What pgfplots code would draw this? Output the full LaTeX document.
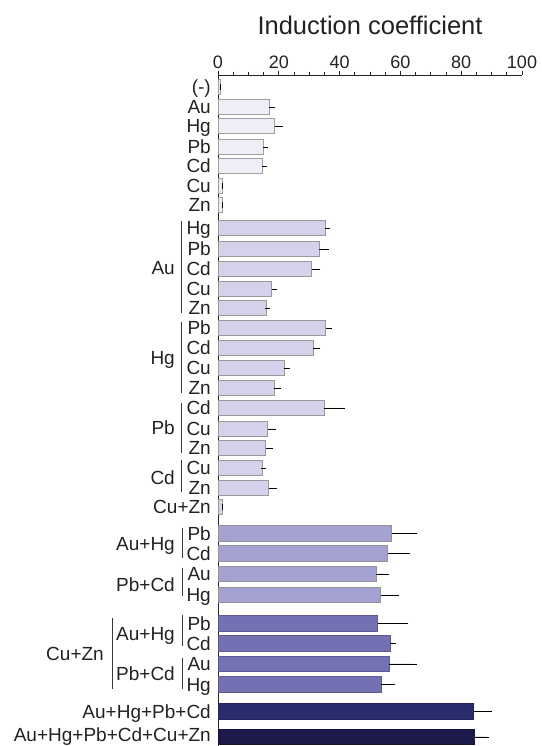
\documentclass[border=0pt]{standalone}
\usepackage{fontspec}
\setmainfont{Liberation Sans}
\usepackage{pgfplots}
\usepackage{pgfplotstable}
\pgfplotsset{compat=1.18}

\definecolor{cA}{HTML}{EEEEF6}
\definecolor{cB}{HTML}{D3D2EA}
\definecolor{cC}{HTML}{A4A2D2}
\definecolor{cD}{HTML}{7371B4}
\definecolor{cE}{HTML}{2B2C6E}
\definecolor{cF}{HTML}{1B1A4A}
\definecolor{txt}{HTML}{222222}

% y = row position (pt from bottom), x = induction coefficient, e = error
\pgfplotstableread{
y     x     e
659   0.9   0.0
639   16.8  1.0
620   18.6  1.8
599   14.9  0.7
580   14.7  0.6
560   1.4   0.0
541   1.3   0.0
}\tabA
\pgfplotstableread{
y     x     e
518   35.4  0.6
497   33.3  2.2
477   30.8  1.9
457   17.6  1.1
438   15.8  0.6
418   35.4  1.4
398   31.3  1.4
378   21.7  1.2
358   18.4  1.4
338   34.9  5.9
317   16.3  2.0
298   15.7  1.5
278   14.7  0.3
258   16.7  2.0
239   1.4   0.0
}\tabB
\pgfplotstableread{
y     x     e
212.5 57.1  7.4
192.5 55.8  6.5
172   52.0  3.3
151   53.5  5.3
}\tabC
\pgfplotstableread{
y     x     e
122.5 52.5  9.3
102.5 56.6  1.2
82    56.3  8.2
61.5  53.6  3.7
}\tabD
\pgfplotstableread{
y     x     e
34.5  84.0  5.3
}\tabE
\pgfplotstableread{
y     x     e
9     84.4  4.0
}\tabF

\tikzset{
  lab/.style={font=\fontsize{19}{19}\selectfont, text=txt, inner sep=0pt,
    text height=13.6pt, text depth=0pt, anchor=east},
  brk/.style={draw=txt!90, line width=0.9pt}
}

\begin{document}
\begin{tikzpicture}[x=1pt,y=1pt]
\begin{axis}[
  at={(218pt,0pt)}, anchor=south west,
  scale only axis, width=304pt, height=671pt,
  xmin=0, xmax=100, ymin=0, ymax=671,
  axis x line*=top, axis y line*=left,
  axis line style={line width=0.9pt, draw=txt},
  xtick={0,20,...,100}, minor x tick num=3,
  tick align=outside,
  major x tick style={line width=0.8pt, draw=txt},
  minor x tick style={line width=0.8pt, draw=txt},
  major tick length=4pt, minor tick length=3pt,
  /pgf/number format/assume math mode=true,
  xticklabel style={font=\fontsize{18}{18}\selectfont, text=txt, inner sep=0pt, text depth=0pt, anchor=south, yshift=2.5pt},
  ytick={11.5,34.5,61.5,82,102.5,122.5,151,172,192.5,212.5,239,258,278,298,317,338,358,378,398,418,438,457,477,497,518,541,560,580,599,620,639,659},
  yticklabels={Au+Hg+Pb+Cd+Cu+Zn,Au+Hg+Pb+Cd,Hg,Au,Cd,Pb,Hg,Au,Cd,Pb,Cu+Zn,Zn,Cu,Zn,Cu,Cd,Zn,Cu,Cd,Pb,Zn,Cu,Cd,Pb,Hg,Zn,Cu,Cd,Pb,Hg,Au,(-)},
  major y tick style={draw=none},
  yticklabel style={lab, xshift=-3pt},
  xbar, bar width=15.5pt,
  clip=false,
  error bars/error bar style={line width=0.9pt, draw=black},
  error bars/error mark options={line width=0.9pt, mark size=2.6pt, draw=black},
]
\addplot[bar shift=0pt, fill=cA, draw=gray!75, line width=0.6pt,
  error bars/.cd, x dir=plus, x explicit] table[x=x, y=y, x error=e] {\tabA};
\addplot[bar shift=0pt, fill=cB, draw=gray!80, line width=0.6pt,
  error bars/.cd, x dir=plus, x explicit] table[x=x, y=y, x error=e] {\tabB};
\addplot[bar shift=0pt, fill=cC, draw=gray!85, line width=0.6pt,
  error bars/.cd, x dir=plus, x explicit] table[x=x, y=y, x error=e] {\tabC};
\addplot[bar shift=0pt, fill=cD, draw=cD!80!black, line width=0.6pt,
  error bars/.cd, x dir=plus, x explicit] table[x=x, y=y, x error=e] {\tabD};
\addplot[bar shift=0pt, fill=cE, draw=cE!80!black, line width=0.6pt,
  error bars/.cd, x dir=plus, x explicit] table[x=x, y=y, x error=e] {\tabE};
\addplot[bar shift=0pt, fill=cF, draw=cF!80!black, line width=0.6pt,
  error bars/.cd, x dir=plus, x explicit] table[x=x, y=y, x error=e] {\tabF};
\end{axis}

% title
\node[font=\fontsize{25.5}{25.5}\selectfont, text=txt, anchor=base] at (370,711) {Induction coefficient};

% group brackets (picture coordinates: x = px, y = 746 - py)
\draw[brk] (181,525) -- (181,433);
\node[lab] at (175,478) {Au};
\draw[brk] (181,424) -- (181,353);
\node[lab] at (175,388) {Hg};
\draw[brk] (181,343) -- (181,293);
\node[lab] at (175,318) {Pb};
\draw[brk] (181,286) -- (181,254);
\node[lab] at (175,268) {Cd};

\draw[brk] (182,218) -- (182,188);
\node[lab] at (175,202.5) {Au+Hg};
\draw[brk] (182,178) -- (182,150);
\node[lab] at (175,161.5) {Pb+Cd};

\draw[brk] (182,131) -- (182,100);
\node[lab] at (175,112.5) {Au+Hg};
\draw[brk] (182,88) -- (182,57);
\node[lab] at (175,72) {Pb+Cd};
\draw[brk] (112,128) -- (112,57);
\node[lab] at (104,92) {Cu+Zn};

\pgfresetboundingbox
\path[use as bounding box] (0,0) rectangle (541,746);
\end{tikzpicture}
\end{document}
